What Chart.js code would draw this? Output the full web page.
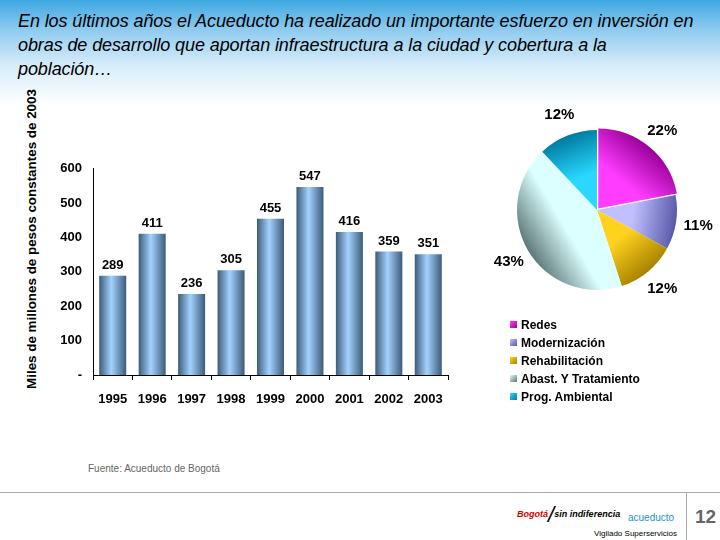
<!DOCTYPE html>
<html>
<head>
<meta charset="utf-8">
<script src="https://cdn.jsdelivr.net/npm/chart.js@4.4.0/dist/chart.umd.min.js"></script>
<style>
  body { margin: 0; width: 720px; height: 540px; position: relative; overflow: hidden; background: #fff;
         font-family: "Liberation Sans", Arial, sans-serif; }
  #cabecera { position: absolute; left: 0; top: 0; width: 720px; height: 110px;
              background: linear-gradient(#3ea8e2 0px, #8fcbef 30px, #d6ecf9 65px, #ffffff 105px); }
  #titulo { position: absolute; left: 18px; top: 9px; font-style: italic; font-size: 18px; line-height: 24px;
            color: #000; white-space: nowrap; letter-spacing: -0.1px; }
  #ejeY { position: absolute; left: 31px; top: 239px; transform: translate(-50%, -50%) rotate(-90deg);
          font-weight: bold; font-size: 13.4px; white-space: nowrap; }
  #barras { position: absolute; left: 40px; top: 150px; }
  #torta { position: absolute; left: 477px; top: 90px; }
  #leyenda { position: absolute; left: 510px; top: 316px; font-weight: bold; font-size: 12px; }
  #leyenda div { height: 18px; line-height: 18px; white-space: nowrap; }
  #leyenda span { display: inline-block; width: 7px; height: 7px; margin-right: 4px; vertical-align: 1px; }
  #fuente { position: absolute; left: 88px; top: 463px; font-size: 10px; color: #666; }
  #linea { position: absolute; left: 0; top: 492px; width: 720px; height: 1px; background: #aaa; }
  #lineaV { position: absolute; left: 686px; top: 492px; width: 1px; height: 48px; background: #aaa; }
  #pagina { position: absolute; left: 695px; top: 506px; font-size: 19px; font-weight: bold; color: #666; }
  #bogota { position: absolute; left: 517px; top: 502px; font-style: italic; font-weight: bold; font-size: 9px; white-space: nowrap; }
  #bogota b { color: #d00000; }
  #bogota i { font-size: 22px; font-weight: normal; vertical-align: -5px; }
  #acueducto { position: absolute; left: 628px; top: 512px; font-size: 10px; color: #1e90d0; }
  #vigilado { position: absolute; left: 594px; top: 529px; font-size: 8px; color: #000; white-space: nowrap; }
</style>
</head>
<body>
<div id="cabecera"></div>
<div id="titulo">En los últimos años el Acueducto ha realizado un importante esfuerzo en inversión en<br>obras de desarrollo que aportan infraestructura a la ciudad y cobertura a la<br>población…</div>
<div id="ejeY">Miles de millones de pesos constantes de 2003</div>
<canvas id="barras" width="420" height="270"></canvas>
<canvas id="torta" width="240" height="240"></canvas>
<div id="leyenda"></div>
<div id="fuente">Fuente: Acueducto de Bogotá</div>
<div id="linea"></div>
<div id="lineaV"></div>
<div id="pagina">12</div>
<div id="bogota"><b>Bogotá</b><i>/</i>sin indiferencia</div>
<div id="acueducto">acueducto</div>
<div id="vigilado">Vigilado Superservicios</div>

<script>
// Datos de inversión anual
const anios = ["1995", "1996", "1997", "1998", "1999", "2000", "2001", "2002", "2003"];
const inversion = [289, 411, 236, 305, 455, 547, 416, 359, 351];
const marcasY = [0, 100, 200, 300, 400, 500, 600];

// Distribución por programa
const sectores = ["Redes", "Modernización", "Rehabilitación", "Abast. Y Tratamiento", "Prog. Ambiental"];
const participacion = [22, 11, 12, 43, 12];
const coloresClaros = ["#ff3cff", "#c0c0ff", "#ffd21e", "#dcffff", "#2ad8ff"];
const coloresOscuros = ["#9a009a", "#5858a8", "#a88200", "#5e7878", "#007aa0"];

const fuente = '"Liberation Sans", Arial, sans-serif';

// Degradado horizontal de cada barra
function degradadoBarra(c) {
  const chart = c.chart;
  const x = chart.scales.x;
  if (!x || !chart.chartArea) return "#7fa9d4";
  const centro = x.getPixelForValue(c.dataIndex);
  const ancho = (x.width / anios.length) * 0.685;
  if (!isFinite(centro)) return "#7fa9d4";
  const g = chart.ctx.createLinearGradient(centro - ancho / 2, 0, centro + ancho / 2, 0);
  g.addColorStop(0, "#3d5b7a");
  g.addColorStop(0.45, "#a3d2ff");
  g.addColorStop(1, "#3d5b7a");
  return g;
}

// Etiquetas de valor sobre las barras
const etiquetasBarras = {
  id: "etiquetasBarras",
  afterDatasetsDraw(chart) {
    const ctx = chart.ctx;
    const meta = chart.getDatasetMeta(0);
    ctx.save();
    ctx.font = "bold 13px " + fuente;
    ctx.fillStyle = "#000";
    ctx.textAlign = "center";
    ctx.textBaseline = "bottom";
    meta.data.forEach((barra, i) => {
      ctx.fillText(inversion[i], barra.x, barra.y - 4);
    });
    ctx.restore();
  }
};

new Chart(document.getElementById("barras"), {
  type: "bar",
  data: {
    labels: anios,
    datasets: [{
      data: inversion,
      backgroundColor: degradadoBarra,
      borderWidth: 0,
      barPercentage: 0.685,
      categoryPercentage: 1
    }]
  },
  options: {
    responsive: false,
    animation: false,
    events: [],
    layout: { padding: { top: 14, right: 12, left: 0, bottom: 0 } },
    plugins: { legend: { display: false }, tooltip: { enabled: false } },
    scales: {
      x: {
        grid: { display: true, drawOnChartArea: false, drawTicks: true, tickLength: 5, color: "#000", offset: true },
        border: { display: true, color: "#000", width: 1 },
        ticks: { color: "#000", font: { family: fuente, size: 13, weight: "bold" }, padding: 12, maxRotation: 0 },
        afterFit(scale) { scale.height = 45; }
      },
      y: {
        min: 0,
        max: 600,
        afterBuildTicks(scale) { scale.ticks = marcasY.map(v => ({ value: v })); },
        grid: { display: false, drawTicks: false, tickLength: 0 },
        border: { display: true, color: "#000", width: 1 },
        ticks: {
          color: "#000",
          font: { family: fuente, size: 13, weight: "bold" },
          padding: 11,
          callback: v => (v === 0 ? "-" : v)
        },
        afterFit(scale) { scale.width = 53; }
      }
    }
  },
  plugins: [etiquetasBarras]
});

// Degradado de cada sector, del centro hacia afuera
function degradadoSector(c) {
  const chart = c.chart;
  const area = chart.chartArea;
  const i = c.dataIndex;
  if (!area) return coloresClaros[i];
  const total = participacion.reduce((a, b) => a + b, 0);
  let acumulado = 0;
  for (let k = 0; k < i; k++) acumulado += participacion[k];
  const medio = -Math.PI / 2 + (2 * Math.PI * (acumulado + participacion[i] / 2)) / total;
  const cx = (area.left + area.right) / 2;
  const cy = (area.top + area.bottom) / 2;
  const g = chart.ctx.createLinearGradient(cx, cy, cx + Math.cos(medio) * 80, cy + Math.sin(medio) * 80);
  g.addColorStop(0, coloresClaros[i]);
  g.addColorStop(0.45, coloresClaros[i]);
  g.addColorStop(1, coloresOscuros[i]);
  return g;
}

// Porcentajes alrededor de la torta
const etiquetasTorta = {
  id: "etiquetasTorta",
  afterDatasetsDraw(chart) {
    const ctx = chart.ctx;
    const meta = chart.getDatasetMeta(0);
    ctx.save();
    ctx.font = "bold 15px " + fuente;
    ctx.fillStyle = "#000";
    ctx.textAlign = "center";
    ctx.textBaseline = "middle";
    meta.data.forEach((arco, i) => {
      const medio = (arco.startAngle + arco.endAngle) / 2;
      const d = arco.outerRadius * 1.28;
      ctx.fillText(participacion[i] + "%", arco.x + Math.cos(medio) * d, arco.y + Math.sin(medio) * d);
    });
    ctx.restore();
  }
};

new Chart(document.getElementById("torta"), {
  type: "pie",
  data: {
    labels: sectores,
    datasets: [{
      data: participacion,
      backgroundColor: degradadoSector,
      borderWidth: 0,
      offset: [8, 0, 0, 0, 0]
    }]
  },
  options: {
    responsive: false,
    animation: false,
    events: [],
    radius: 80,
    layout: { padding: 0 },
    plugins: { legend: { display: false }, tooltip: { enabled: false } }
  },
  plugins: [etiquetasTorta]
});

// Leyenda
const leyenda = document.getElementById("leyenda");
sectores.forEach((nombre, i) => {
  const fila = document.createElement("div");
  const cuadro = document.createElement("span");
  cuadro.style.background = "linear-gradient(135deg, " + coloresClaros[i] + ", " + coloresOscuros[i] + ")";
  fila.appendChild(cuadro);
  fila.appendChild(document.createTextNode(nombre));
  leyenda.appendChild(fila);
});
</script>
</body>
</html>
